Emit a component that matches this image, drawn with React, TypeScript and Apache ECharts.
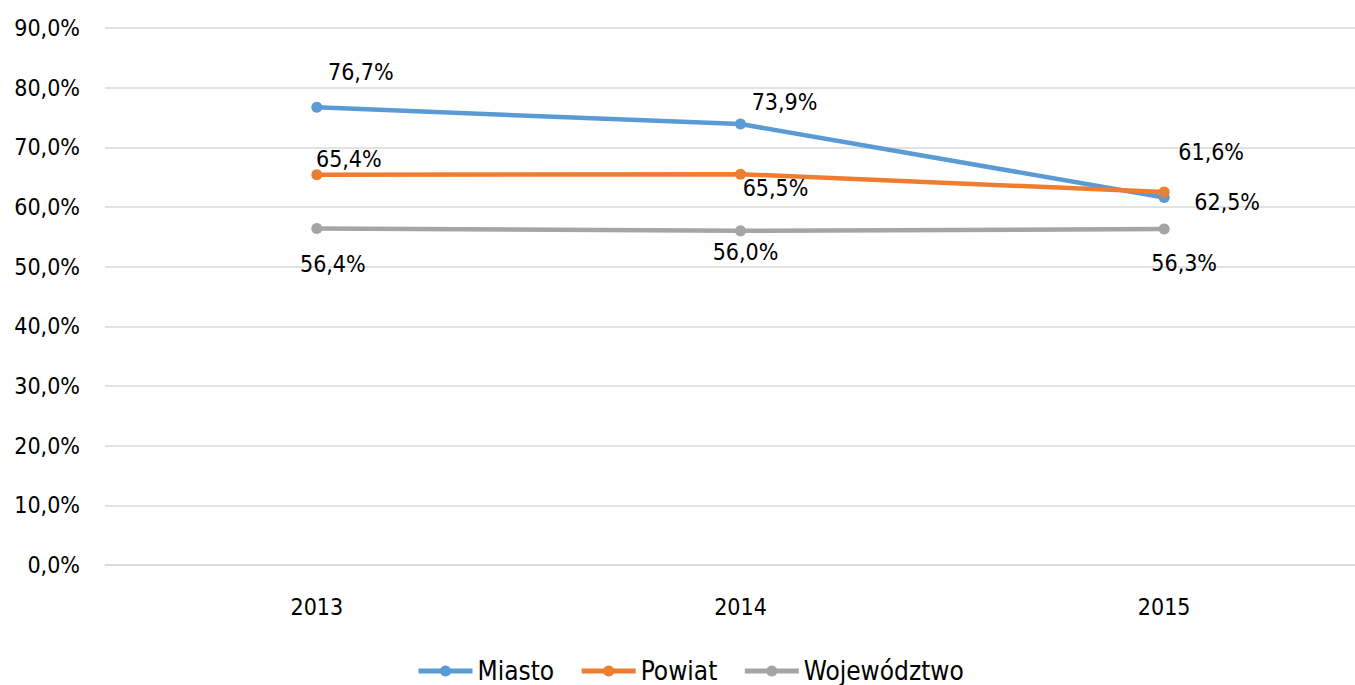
import React, { useEffect, useRef } from "react";
import * as echarts from "echarts";

const categories = ["2013", "2014", "2015"];
const miasto = [76.7, 73.9, 61.6];
const powiat = [65.4, 65.5, 62.5];
const wojewodztwo = [56.4, 56.0, 56.3];
const seriesNames = ["Miasto", "Powiat", "Województwo"];

const colors = ["#5B9BD5", "#ED7D31", "#A5A5A5"];
// label offsets (style) per series per point, relative to the point
const labelOffsets: number[][][] = [
  [[44, -35], [44, -22], [47, -45]],
  [[32, -16], [35, 14], [63, 10]],
  [[16, 36], [5, 21], [20, 34]],
];

const FONT = "DejaVu Sans Condensed, DejaVu Sans, sans-serif";
const fmt = (v: number) => v.toFixed(1).replace(".", ",") + "%";

export default function App() {
  const ref = useRef<HTMLDivElement>(null);
  useEffect(() => {
    if (!ref.current) return;
    const chart = echarts.init(ref.current, undefined, { renderer: "svg" });
    const all = [miasto, powiat, wojewodztwo];
    chart.setOption({
      animation: false,
      textStyle: { fontFamily: FONT },
      grid: { left: 97, top: 20, width: 1271, height: 537 },
      legend: {
        left: 403,
        top: 645,
        itemWidth: 54,
        itemHeight: 14,
        itemGap: 25,
        lineStyle: { width: 5 },
        textStyle: { fontSize: 26, color: "#000", fontFamily: FONT },
        data: seriesNames,
      },
      xAxis: {
        type: "category",
        data: categories,
        boundaryGap: true,
        axisLine: { lineStyle: { color: "#D9D9D9", width: 1.5 } },
        axisTick: { show: false },
        axisLabel: { fontSize: 23, color: "#000", margin: 30, fontFamily: FONT },
      },
      yAxis: {
        type: "value",
        min: 0,
        max: 90,
        interval: 10,
        axisLine: { show: false },
        axisTick: { show: false },
        axisLabel: {
          fontSize: 23,
          color: "#000",
          margin: 25,
          fontFamily: FONT,
          formatter: (v: number) => fmt(v),
        },
        splitLine: { lineStyle: { color: "#D9D9D9", width: 1.5 } },
      },
      series: all.map((vals, si) => ({
        name: seriesNames[si],
        type: "line",
        data: vals.map((v, i) => ({
          value: v,
          label: { offset: labelOffsets[si][i] },
        })),
        symbol: "circle",
        symbolSize: 11,
        lineStyle: { width: 4.5, color: colors[si] },
        itemStyle: { color: colors[si] },
        z: 10 + si,
        label: {
          show: true,
          position: "inside",
          fontSize: 23,
          color: "#000",
          fontFamily: FONT,
          formatter: (p: any) => fmt(p.value),
        },
      })),
    });
    return () => chart.dispose();
  }, []);
  return (
    <div
      style={{
        position: "absolute",
        left: 8,
        top: 8,
        width: 1347,
        height: 677,
        overflow: "hidden",
      }}
    >
      <div ref={ref} style={{ width: 1400, height: 677 }} />
    </div>
  );
}
